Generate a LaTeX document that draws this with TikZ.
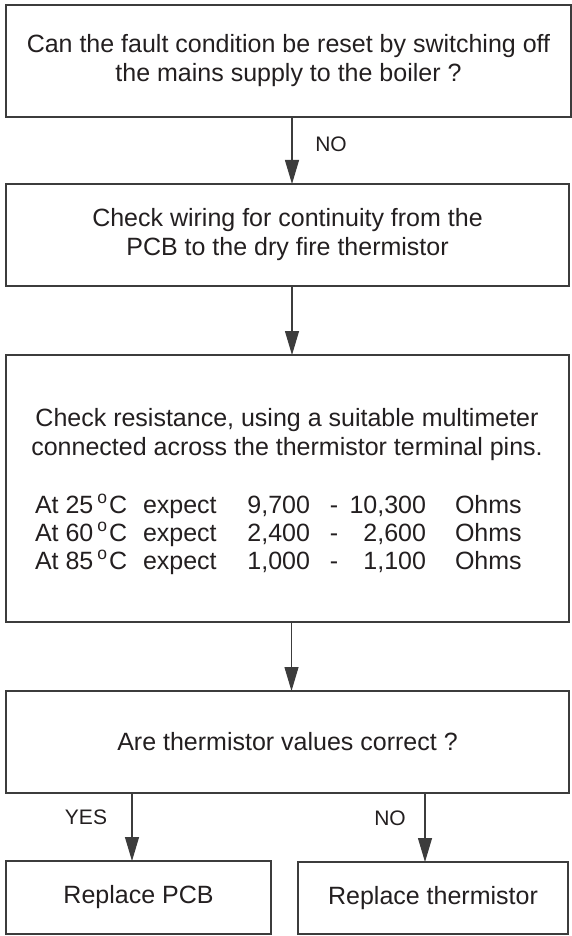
\documentclass[tikz,border=0pt]{standalone}
\usepackage{fontspec}
\setmainfont{Liberation Sans}
\usetikzlibrary{arrows.meta}
\definecolor{ink}{HTML}{231F20}
\definecolor{edge}{HTML}{3C3C3C}
\newcommand{\degC}{\hspace{4pt}\textsuperscript{o}\hspace{1.5pt}C}
\begin{document}
\begin{tikzpicture}[x=1pt,y=-1pt,
  box/.style={draw=edge,line width=1.4pt,inner sep=0pt,outer sep=0pt,
    font=\fontsize{25}{29}\selectfont,text=ink,align=center},
  txt/.style={inner sep=0pt,outer sep=0pt,font=\fontsize{25}{29}\selectfont,text=ink},
  lbl/.style={inner sep=0pt,outer sep=0pt,font=\fontsize{21}{25}\selectfont,text=ink},
  arr/.style={draw=edge,line width=1.1pt,-{Triangle[length=24pt,width=14pt]}}]
\fill[white] (0,0) rectangle (572,936);
\useasboundingbox (0,0) rectangle (572,936);

\node[box,minimum width=565pt,minimum height=112pt] (b1) at (288.5,61)
  {Can the fault condition be reset by switching off\\the mains supply to the boiler ?};
\node[box,minimum width=563pt,minimum height=102pt] (b2) at (287.5,235)
  {Check wiring for continuity from the\\PCB to the dry fire thermistor};
\node[box,minimum width=563pt,minimum height=267pt] (b3) at (287.5,488.5) {};
\node[box,minimum width=563pt,minimum height=102pt] (b4) at (287.5,742)
  {Are thermistor values correct ?};
\node[box,minimum width=265pt,minimum height=73pt] (b5) at (138.5,897.5) {Replace PCB};
\node[box,minimum width=270pt,minimum height=72pt] (b6) at (433,898) {Replace thermistor};

% text of the resistance box
\node[txt,align=center] (t1) at (287,434.5)
  {Check resistance, using a suitable multimeter\\connected across the thermistor terminal pins.};

\node[txt,anchor=base west] (r1a) at (35,513) {At 25\degC};
\node[txt,anchor=base west] (r1b) at (143,513) {expect};
\node[txt,anchor=base east] (r1c) at (310,513) {9,700};
\node[txt,anchor=base] (r1d) at (334,513) {-};
\node[txt,anchor=base east] (r1e) at (426,513) {10,300};
\node[txt,anchor=base west] (r1f) at (455,513) {Ohms};

\node[txt,anchor=base west] (r2a) at (35,541) {At 60\degC};
\node[txt,anchor=base west] (r2b) at (143,541) {expect};
\node[txt,anchor=base east] (r2c) at (310,541) {2,400};
\node[txt,anchor=base] (r2d) at (334,541) {-};
\node[txt,anchor=base east] (r2e) at (426,541) {2,600};
\node[txt,anchor=base west] (r2f) at (455,541) {Ohms};

\node[txt,anchor=base west] (r3a) at (35,569) {At 85\degC};
\node[txt,anchor=base west] (r3b) at (143,569) {expect};
\node[txt,anchor=base east] (r3c) at (310,569) {1,000};
\node[txt,anchor=base] (r3d) at (334,569) {-};
\node[txt,anchor=base east] (r3e) at (426,569) {1,100};
\node[txt,anchor=base west] (r3f) at (455,569) {Ohms};

% connectors
\draw[arr] ([xshift=3.5pt]b1.south) -- ([xshift=4.5pt]b2.north);
\draw[arr] ([xshift=4.5pt]b2.south) -- ([xshift=4.5pt]b3.north);
\draw[arr] ([xshift=4pt]b3.south) -- ([xshift=4pt]b4.north);
\draw[arr] ([xshift=-155.5pt]b4.south) -- ([xshift=-6.5pt]b5.north);
\draw[arr] ([xshift=137.5pt]b4.south) -- ([xshift=-8pt]b6.north);

% labels
\node[lbl] (l1) at (331,144) {NO};
\node[lbl] (l2) at (86,817) {YES};
\node[lbl] (l3) at (390,818) {NO};
\end{tikzpicture}
\end{document}
